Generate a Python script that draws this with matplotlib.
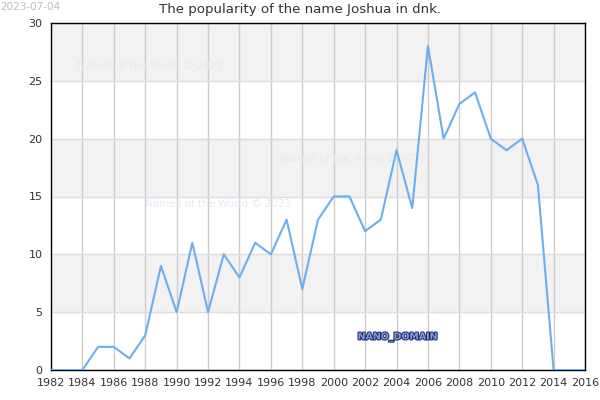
import matplotlib
matplotlib.use('Agg')
import matplotlib.pyplot as plt
import matplotlib.patheffects as pe

# popularity data
years = list(range(1982, 2017))
counts = [0, 0, 0, 2, 2, 1, 3, 9, 5, 11, 5, 10, 8, 11, 10, 13, 7, 13, 15, 15,
          12, 13, 19, 14, 28, 20, 23, 24, 20, 19, 20, 16, 0, 0, 0]
x_ticks = list(range(1982, 2017, 2))
y_ticks = [0, 5, 10, 15, 20, 25, 30]

fig = plt.figure(figsize=(6, 4), dpi=100)
ax = fig.add_axes([0.085, 0.075, 0.89, 0.8675])

# alternating bands
for i in range(len(y_ticks) - 1):
    if i % 2 == 1:
        ax.axhspan(y_ticks[i], y_ticks[i + 1], color='#f2f2f2', zorder=0)

ax.plot(years, counts, color='#6aaff0', linewidth=1.5, zorder=3)

ax.set_xlim(1982, 2016)
ax.set_ylim(0, 30)
ax.set_xticks(x_ticks)
ax.set_yticks(y_ticks)
ax.tick_params(labelsize=8, length=0, colors='#333333', pad=6)
ax.grid(axis='x', color='#cccccc', linewidth=1, zorder=1)
ax.grid(axis='y', color='#dddddd', linewidth=1, zorder=1)
ax.set_axisbelow(True)
for s in ax.spines.values():
    s.set_color('black')
    s.set_linewidth(1)

fig.text(0.5, 1 - 10 / 400, 'The popularity of the name Joshua in dnk.', fontsize=9.6,
         color='#333333', ha='center', va='center')
fig.text(0.0, 0.995, '2023-07-04', fontsize=7.5, color='#bbbbbb', va='top', ha='left')

wm = dict(fontsize=7.5, color='#e8e8f8', zorder=2, transform=fig.transFigure)
ax.text(77 / 600, 1 - 66 / 400, 'Names of the World © 2023', va='center', ha='left', **wm)
ax.text(280 / 600, 1 - 159 / 400, 'Names of the World © 2023', va='center', ha='left', **wm)
ax.text(145 / 600, 1 - 204 / 400, 'Names of the World © 2023', va='center', ha='left', **wm)

ax.text(398 / 600, 1 - 337 / 400, 'NANO_DOMAIN', transform=fig.transFigure, fontsize=6.8,
        ha='center', va='center', color='#8899dd', fontweight='bold', zorder=4,
        path_effects=[pe.withStroke(linewidth=1.5, foreground='#1a2a6a')])

fig.savefig('out.png', dpi=100)
